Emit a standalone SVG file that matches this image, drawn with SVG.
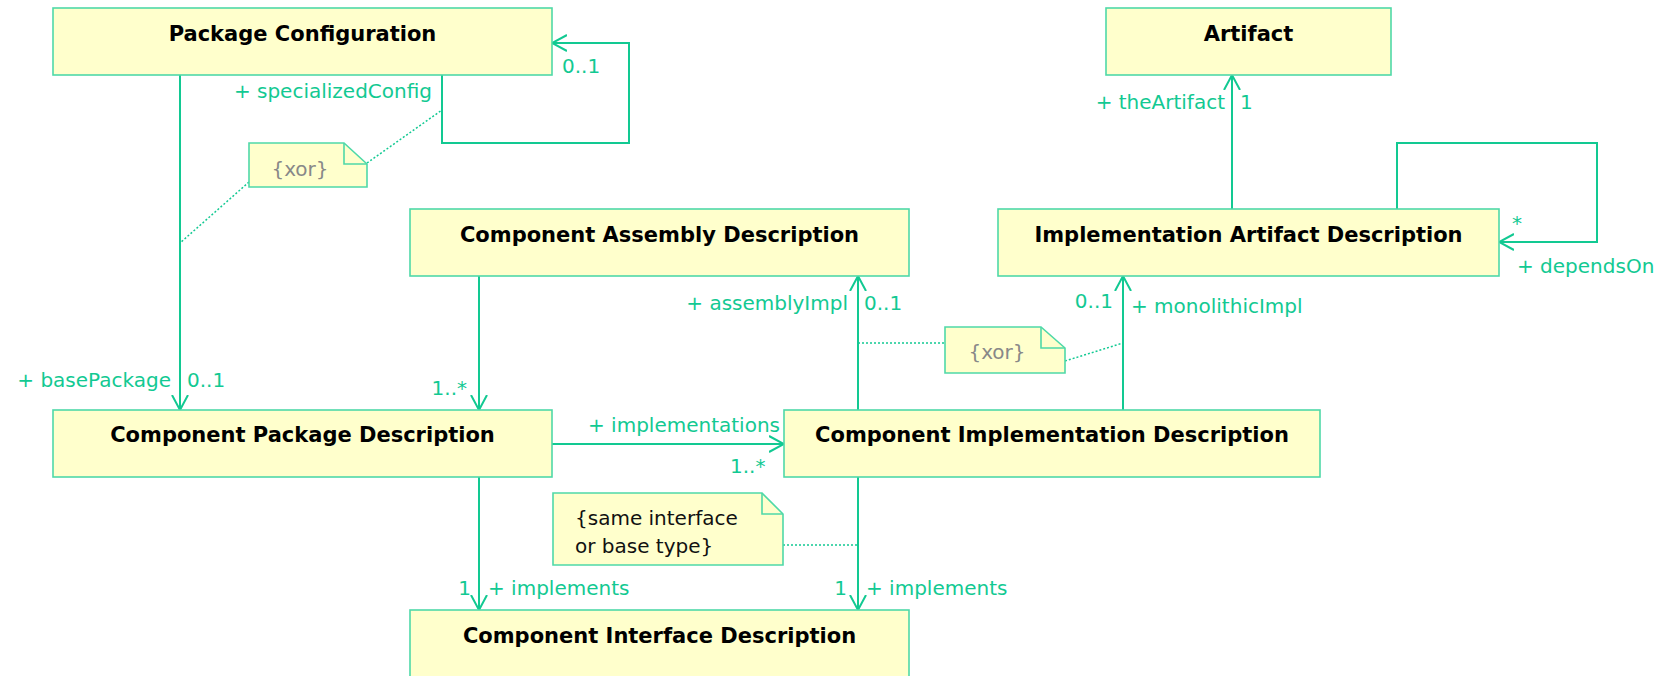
<svg xmlns="http://www.w3.org/2000/svg" width="1676" height="676" viewBox="0 0 1676 676">
<style>
.box{fill:#FFFFCC;stroke:#4FD9A8;stroke-width:1.6}
.title{font-family:"DejaVu Sans",Verdana,sans-serif;font-weight:bold;font-size:21px;fill:#000;text-anchor:middle}
.lbl{font-family:"DejaVu Sans",Verdana,sans-serif;font-size:20px;fill:#12C992}
.end{text-anchor:end}
.conn{fill:none;stroke:#12C992;stroke-width:2}
.dot{fill:none;stroke:#12C992;stroke-width:1.5;stroke-dasharray:2 2}
.note{fill:#FFFFCC;stroke:#4FD9A8;stroke-width:1.6}
.fold{fill:none;stroke:#4FD9A8;stroke-width:1.6}
.xor{font-family:"DejaVu Sans",Verdana,sans-serif;font-size:20px;fill:#888888;text-anchor:middle}
.ntxt{font-family:"DejaVu Sans",Verdana,sans-serif;font-size:20px;fill:#111}
</style>
<defs>
<marker id="open" viewBox="0 0 16 18" refX="15" refY="9" markerWidth="16" markerHeight="18" markerUnits="userSpaceOnUse" orient="auto">
<path d="M0,1 L15,9 L0,17" fill="none" stroke="#12C992" stroke-width="2"/>
</marker>
</defs>

<g id="connectors">
<path class="conn" d="M180,75 V410" marker-end="url(#open)"/>
<path class="conn" d="M442,75 V143 H629 V43 H552" marker-end="url(#open)"/>
<path class="conn" d="M479,276 V410" marker-end="url(#open)"/>
<path class="conn" d="M552,444 H784" marker-end="url(#open)"/>
<path class="conn" d="M479,477 V610" marker-end="url(#open)"/>
<path class="conn" d="M858,410 V276" marker-end="url(#open)"/>
<path class="conn" d="M1123,410 V276" marker-end="url(#open)"/>
<path class="conn" d="M858,477 V610" marker-end="url(#open)"/>
<path class="conn" d="M1232,209 V75" marker-end="url(#open)"/>
<path class="conn" d="M1397,209 V143 H1597 V242 H1499" marker-end="url(#open)"/>
<path class="dot" d="M367,163 L442,110"/>
<path class="dot" d="M249,182 L180,243"/>
<path class="dot" d="M858,343 H945"/>
<path class="dot" d="M1065,361 L1123,343"/>
<path class="dot" d="M783,545 H858"/>
<text class="lbl end" x="432" y="98">+ specializedConfig</text>
<text class="lbl" x="562" y="73">0..1</text>
<text class="lbl end" x="171" y="387">+ basePackage</text>
<text class="lbl" x="187" y="387">0..1</text>
<text class="lbl end" x="467" y="395">1..*</text>
<text class="lbl end" x="780" y="432">+ implementations</text>
<text class="lbl" x="730" y="473">1..*</text>
<text class="lbl end" x="471" y="595">1</text>
<text class="lbl" x="488" y="595">+ implements</text>
<text class="lbl end" x="848" y="310">+ assemblyImpl</text>
<text class="lbl" x="864" y="310">0..1</text>
<text class="lbl end" x="1113" y="308">0..1</text>
<text class="lbl" x="1131" y="313">+ monolithicImpl</text>
<text class="lbl end" x="847" y="595">1</text>
<text class="lbl" x="866" y="595">+ implements</text>
<text class="lbl end" x="1225" y="109">+ theArtifact</text>
<text class="lbl" x="1240" y="109">1</text>
<text class="lbl" x="1512" y="230">*</text>
<text class="lbl" x="1517" y="273">+ dependsOn</text>
</g>

<g id="package-configuration">
<rect class="box" x="53" y="8" width="499" height="67"/>
<text class="title" x="302.5" y="41">Package Configuration</text>
</g>
<g id="artifact">
<rect class="box" x="1106" y="8" width="285" height="67"/>
<text class="title" x="1248.5" y="41">Artifact</text>
</g>
<g id="component-assembly-description">
<rect class="box" x="410" y="209" width="499" height="67"/>
<text class="title" x="659.5" y="242">Component Assembly Description</text>
</g>
<g id="implementation-artifact-description">
<rect class="box" x="998" y="209" width="501" height="67"/>
<text class="title" x="1248.5" y="242">Implementation Artifact Description</text>
</g>
<g id="component-package-description">
<rect class="box" x="53" y="410" width="499" height="67"/>
<text class="title" x="302.5" y="442">Component Package Description</text>
</g>
<g id="component-implementation-description">
<rect class="box" x="784" y="410" width="536" height="67"/>
<text class="title" x="1052" y="442">Component Implementation Description</text>
</g>
<g id="component-interface-description">
<rect class="box" x="410" y="610" width="499" height="90"/>
<text class="title" x="659.5" y="643">Component Interface Description</text>
</g>

<g id="note-xor-1">
<path class="note" d="M249,143 H344 L367,164 V187 H249 Z"/>
<path class="fold" d="M344,143 V164 H367"/>
<text class="xor" x="300" y="176">{xor}</text>
</g>
<g id="note-xor-2">
<path class="note" d="M945,327 H1041 L1065,348 V373 H945 Z"/>
<path class="fold" d="M1041,327 V348 H1065"/>
<text class="xor" x="997" y="359">{xor}</text>
</g>
<g id="note-same-interface">
<path class="note" d="M553,493 H762 L783,514 V565 H553 Z"/>
<path class="fold" d="M762,493 V514 H783"/>
<text class="ntxt" x="575" y="525">{same interface</text>
<text class="ntxt" x="575" y="553">or base type}</text>
</g>
</svg>
